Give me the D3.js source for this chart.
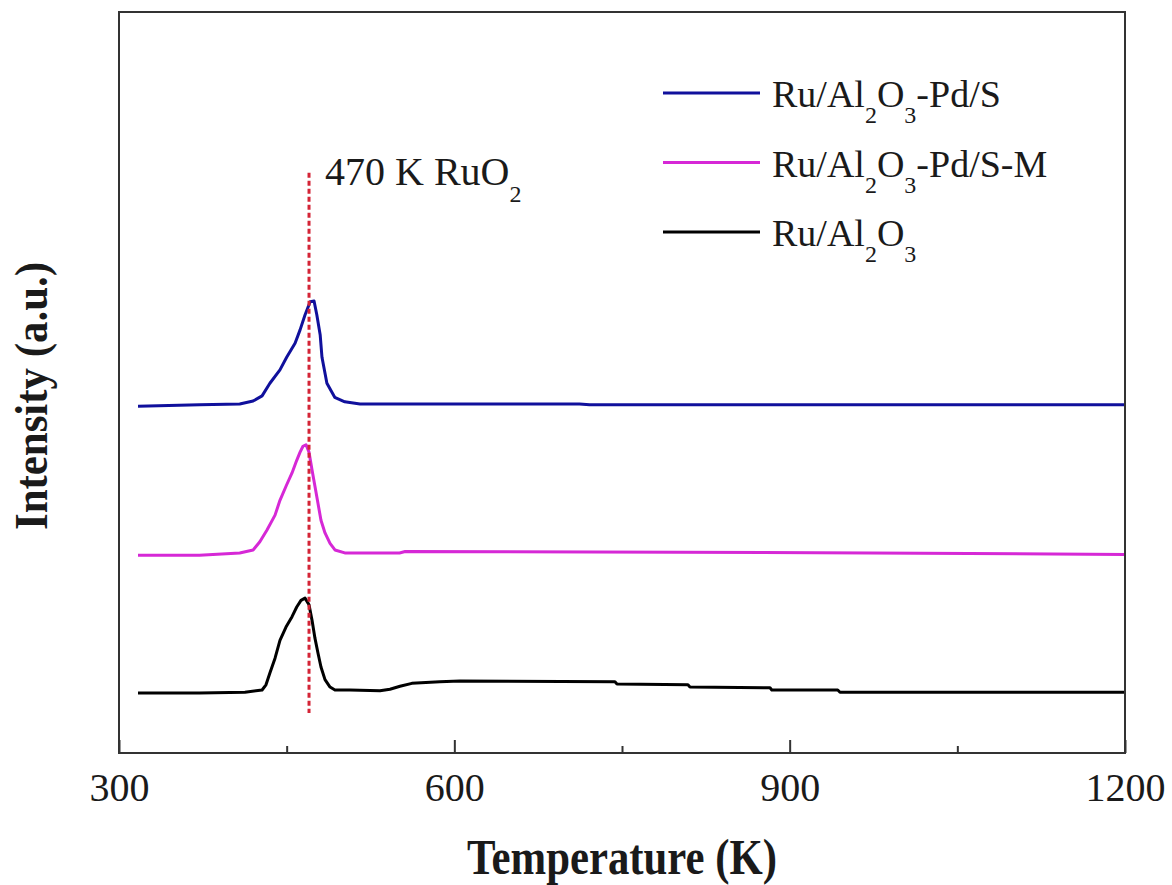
<!DOCTYPE html>
<html>
<head>
<meta charset="utf-8">
<script src="https://cdn.jsdelivr.net/npm/d3@7"></script>
<style>
  html, body { margin: 0; padding: 0; background: #fff; }
  svg { display: block; }
</style>
</head>
<body>
<svg id="chart" width="1172" height="885"></svg>
<script>
// TPR profiles (temperature in K, intensity in arbitrary units, offset per sample)
const tempPdS = [317, 372, 408, 420, 428, 435, 444, 450, 457.5, 462, 466.4, 471, 474.5, 477, 480, 481.6, 486, 493, 502, 515.6, 712, 721, 1200];
const intPdS  = [46.8, 47.0, 47.1, 47.5, 48.2, 49.9, 51.7, 53.4, 55.3, 57.1, 59.1, 60.9, 61.0, 59.1, 56.4, 53.4, 49.9, 48.0, 47.4, 47.1, 47.1, 47.0, 47.0];

const tempPdSM = [317, 372, 408, 420, 426, 432.4, 439.6, 444, 450, 454.8, 459, 462, 464.6, 467.3, 470, 472.7, 475.3, 478, 480.7, 484.3, 488.8, 493.2, 502, 551, 556, 972, 1200];
const intPdSM  = [26.7, 26.7, 27.0, 27.4, 28.5, 30.1, 32.1, 34.1, 36.2, 37.8, 39.5, 40.6, 41.4, 41.6, 40.6, 38.2, 36.0, 33.7, 31.4, 29.7, 28.3, 27.4, 27.0, 27.0, 27.2, 27.0, 26.8];

const tempRu = [317, 372, 412.7, 428, 431.5, 435, 439.6, 444, 449.4, 454.8, 459, 462.8, 466.4, 470, 472.7, 475.3, 478, 480.7, 484.3, 488.8, 493.2, 506.6, 533.5, 542.4, 551.4, 562, 587, 605, 743.7, 745.5, 809, 810.8, 882.4, 884, 943, 945, 1200];
const intRu  = [8.1, 8.1, 8.2, 8.5, 9.2, 10.8, 12.8, 15.2, 17.0, 18.4, 19.7, 20.6, 20.9, 20.0, 17.9, 15.5, 13.5, 11.6, 9.9, 8.9, 8.5, 8.5, 8.4, 8.6, 9.0, 9.4, 9.6, 9.7, 9.6, 9.3, 9.2, 8.9, 8.8, 8.5, 8.5, 8.2, 8.2];

const seriesNames  = ["Ru/Al2O3-Pd/S", "Ru/Al2O3-Pd/S-M", "Ru/Al2O3"];
const seriesColors = ["#10109c", "#d628d6", "#000000"];

const majorTicks = [300, 600, 900, 1200];
const minorTicks = [450, 750, 1050];

const markerTemp  = 470;          // RuO2 reduction peak
const markerRange = [5.4, 78.3];  // vertical extent of the guide line
const markerLabel = "470 K RuO";

const xDomain = [300, 1200];
const yDomain = [0, 100];

const SERIF = "'Liberation Serif', 'Times New Roman', Times, serif";
const INK = "#1a1a1a";

// plot box
const box = { left: 119, right: 1125, top: 12, bottom: 753 };

const svg = d3.select("#chart");
const x = d3.scaleLinear().domain(xDomain).range([box.left, box.right]);
const y = d3.scaleLinear().domain(yDomain).range([box.bottom, box.top]);

const series = [
  { name: seriesNames[0], color: seriesColors[0], pts: d3.zip(tempPdS, intPdS) },
  { name: seriesNames[1], color: seriesColors[1], pts: d3.zip(tempPdSM, intPdSM) },
  { name: seriesNames[2], color: seriesColors[2], pts: d3.zip(tempRu, intRu) }
];

const line = d3.line().x(d => x(d[0])).y(d => y(d[1]));

// curves
svg.append("g").selectAll("path").data(series).join("path")
  .attr("d", d => line(d.pts))
  .attr("fill", "none")
  .attr("stroke", d => d.color)
  .attr("stroke-width", 3)
  .attr("stroke-linejoin", "round");

// guide line at the RuO2 peak
svg.append("line")
  .attr("x1", x(markerTemp)).attr("x2", x(markerTemp))
  .attr("y1", y(markerRange[1])).attr("y2", y(markerRange[0]))
  .attr("stroke", "#d42436")
  .attr("stroke-width", 3)
  .attr("stroke-dasharray", "5,3");

const ann = svg.append("text")
  .attr("x", x(markerTemp) + 16)
  .attr("y", y(markerRange[1]) + 12)
  .attr("font-family", SERIF)
  .attr("fill", INK)
  .attr("font-size", 40);
ann.append("tspan").text(markerLabel);
ann.append("tspan").attr("font-size", 24).attr("dy", 17).text("2");

// frame
svg.append("rect")
  .attr("x", box.left).attr("y", box.top)
  .attr("width", box.right - box.left).attr("height", box.bottom - box.top)
  .attr("fill", "none")
  .attr("stroke", "#333")
  .attr("stroke-width", 2);

// bottom axis: inward major ticks with labels, minor ticks without
const axis = svg.append("g")
  .attr("transform", `translate(0,${box.bottom})`)
  .call(d3.axisBottom(x).tickValues(majorTicks).tickSize(-13).tickPadding(20).tickFormat(d3.format("d")));
axis.attr("font-family", SERIF);
axis.select(".domain").remove();
axis.selectAll(".tick line").attr("stroke", "#333").attr("stroke-width", 2);
axis.selectAll(".tick text")
  .attr("font-size", 40)
  .attr("font-family", SERIF)
  .attr("fill", INK);

const minor = svg.append("g")
  .attr("transform", `translate(0,${box.bottom})`)
  .call(d3.axisBottom(x).tickValues(minorTicks).tickSize(-7).tickFormat(""));
minor.select(".domain").remove();
minor.selectAll(".tick line").attr("stroke", "#333").attr("stroke-width", 2);

// axis titles
svg.append("text")
  .attr("x", 622).attr("y", 874)
  .attr("text-anchor", "middle")
  .attr("font-family", SERIF)
  .attr("fill", INK)
  .attr("font-size", 50)
  .attr("font-weight", "bold")
  .attr("textLength", 310)
  .attr("lengthAdjust", "spacingAndGlyphs")
  .text("Temperature (K)");

svg.append("text")
  .attr("transform", "translate(47,396) rotate(-90)")
  .attr("text-anchor", "middle")
  .attr("font-family", SERIF)
  .attr("fill", INK)
  .attr("font-size", 47)
  .attr("font-weight", "bold")
  .attr("textLength", 268)
  .attr("lengthAdjust", "spacingAndGlyphs")
  .text("Intensity (a.u.)");

// legend
const legendX = 663, legendY0 = 93, legendStep = 69.5;
const lg = svg.append("g").selectAll("g").data(series).join("g")
  .attr("transform", (d, i) => `translate(${legendX},${legendY0 + i * legendStep})`);
lg.append("line")
  .attr("x1", 0).attr("x2", 97)
  .attr("stroke", d => d.color)
  .attr("stroke-width", 3);
lg.each(function(d) {
  const t = d3.select(this).append("text")
    .attr("x", 109).attr("y", 14)
    .attr("font-family", SERIF)
    .attr("fill", INK)
    .attr("font-size", 38);
  // digits in the formula are drawn as subscripts
  let shifted = false;
  d.name.split(/(\d)/).filter(s => s.length).forEach(p => {
    const isDigit = /^\d$/.test(p);
    const ts = t.append("tspan").text(p);
    if (isDigit) {
      ts.attr("font-size", 24).attr("dy", 16);
      shifted = true;
    } else if (shifted) {
      ts.attr("dy", -16);
      shifted = false;
    }
  });
});
</script>
</body>
</html>
